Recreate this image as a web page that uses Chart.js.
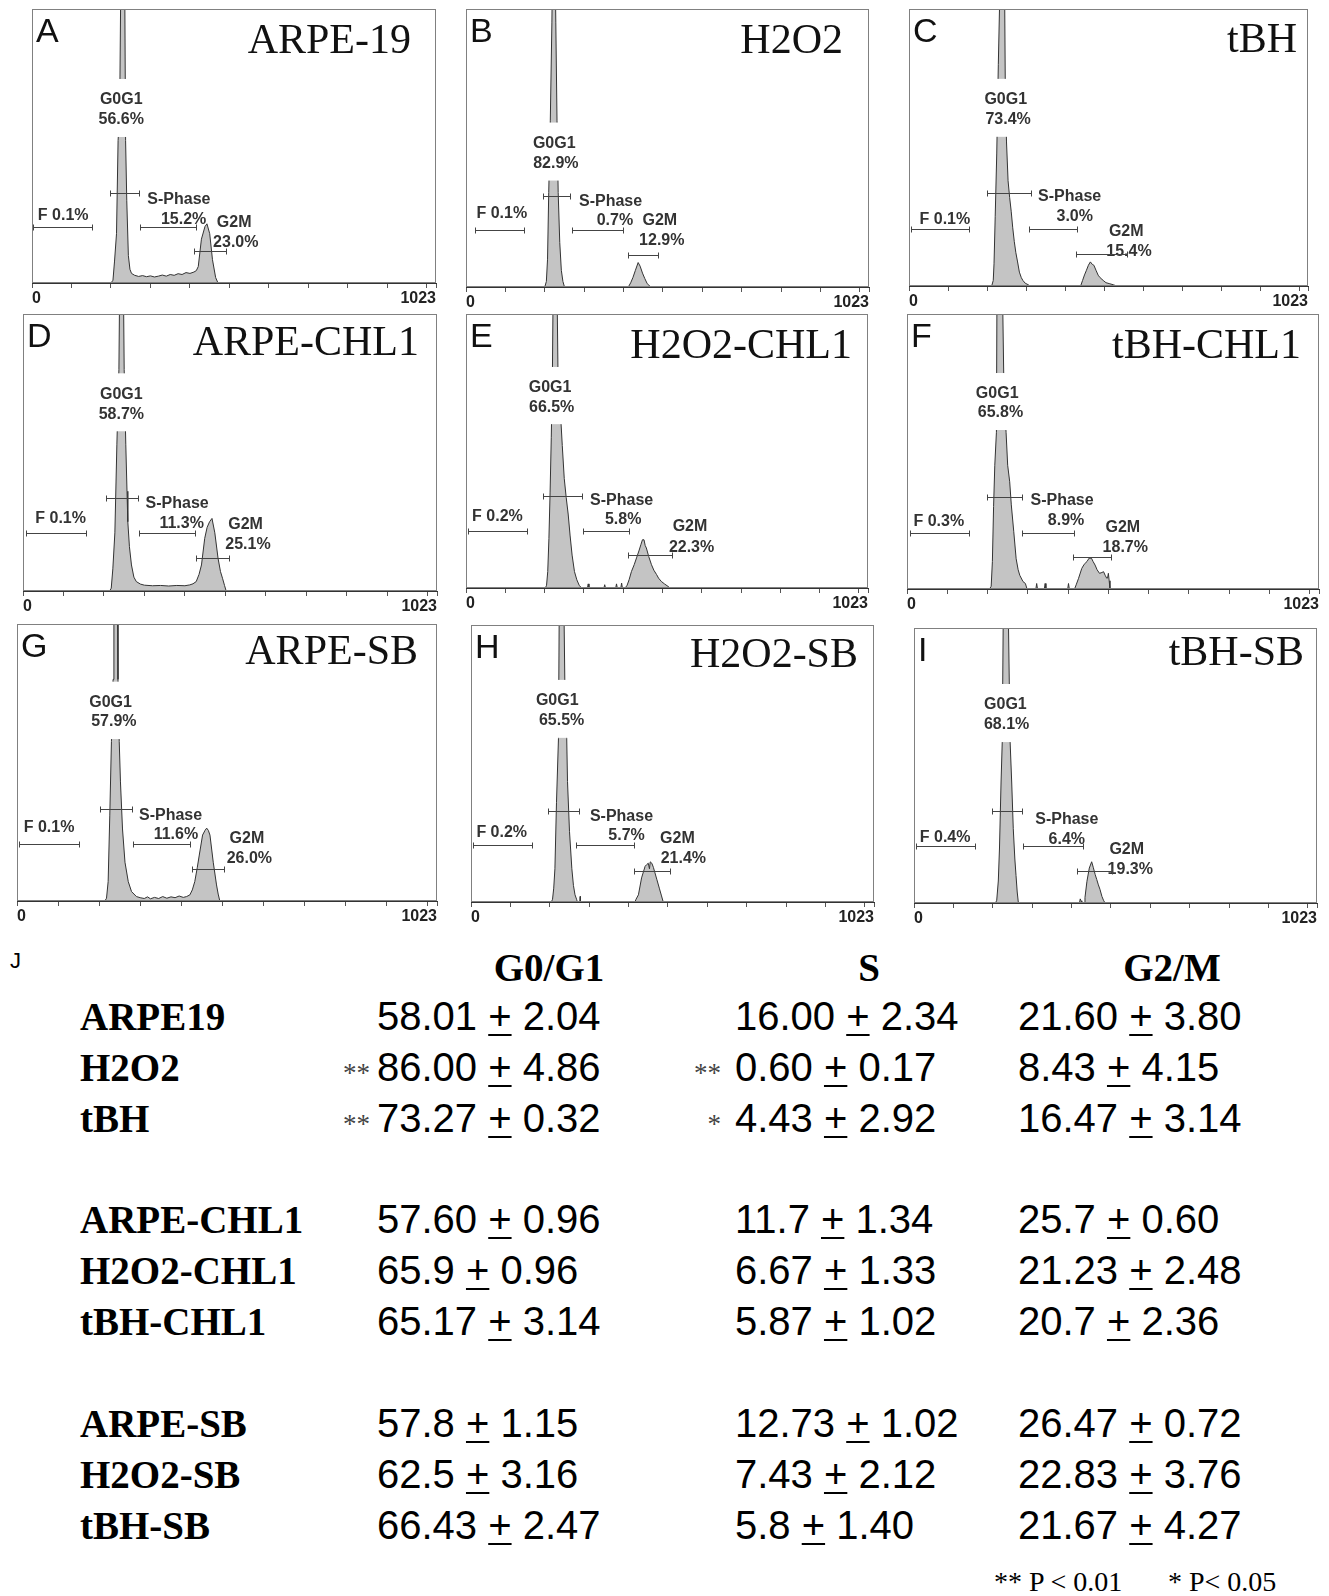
<!DOCTYPE html>
<html>
<head>
<meta charset="utf-8">
<script src="https://cdn.jsdelivr.net/npm/chart.js@4.4.1/dist/chart.umd.min.js"></script>
<style>
  body { margin: 0; background: #fff; }
  #page { position: relative; width: 1329px; height: 1596px; overflow: hidden; background: #fff; }
  .panel { position: absolute; }
  .letter { position: absolute; font: 34px/34px "Liberation Sans", Arial, sans-serif; color: #111; white-space: nowrap; }
  .title { position: absolute; font: 42px/42px "Liberation Serif", "Times New Roman", serif; color: #111; white-space: nowrap; }
  .t { position: absolute; white-space: nowrap; color: #000; }
  .head, .rowname { font: bold 39px/39px "Liberation Serif", "Times New Roman", serif; }
  .val { font: 40px/40px "Liberation Sans", Arial, sans-serif; }
  .sig { font: 27px/27px "Liberation Serif", "Times New Roman", serif; color: #444; }
  .jl { font: 22px/22px "Liberation Sans", Arial, sans-serif; }
  .foot { font: 28px/28px "Liberation Serif", "Times New Roman", serif; }
  .pm { text-decoration: underline; text-decoration-thickness: 2px; text-underline-offset: 4px; }
</style>
</head>
<body>
<div id="page"></div>
<script>
// histograms: DNA channel / count (count as % of panel height, peak tops run off the panel)
const chA = [200,205,209,214,218,222,226,234,237,240,244,248,252,260,270,280,290,300,310,320,330,340,350,360,370,380,390,400,410,416,421,429,438,443,450,457,465,471];
const cntA = [0,1,8,18,52,62,130,130,52,30,10,5,3.5,2.8,2.4,2.7,2.3,2.6,2.2,2.5,2.9,2.5,3.1,2.8,3.4,3.1,3.8,3.5,4,4.5,6,16,20.6,21.6,18,8.5,2,0];
const chB = [200,204,207,210,214,218,221,225,228,231,234,238,242,246,250,412,418,424,430,437,442,448,454,460,469];
const cntB = [0,2,10,34,60,95,130,130,95,60,34,16,6,2,0,0,1.5,3.5,6,8.8,7.5,5,3,1.2,0];
const chC = [212,216,218,221,225,229,232,235,244,247,250,254,258,262,266,270,274,278,283,288,292,298,305,310,440,445,450,455,460,465,470,474,480,485,490,498,505,515,525,532];
const cntC = [0,2,8,25,48,80,100,130,130,70,52,38,32,27,21,16,12,9,5,3,2,1,0.5,0,0,2,4,5.7,7.5,8.7,7.8,7.5,5.5,3.9,3,2,1.2,0.8,0.4,0];
const chD = [214,218,222,227,232,237,240,247,250,254,257,259,263,268,274,280,290,300,320,340,360,380,400,412,420,428,435,441,449,455,461,467,474,482,488,493,498,502];
const cntD = [0,1,8,21,53,80,130,130,80,53,36,25,16,9.4,5,3.4,2.5,2.1,1.9,2,1.8,2,1.9,2.2,2.6,3.4,6,9.4,19,23,25,26.2,21,11.8,7,4.6,2,0];
const chE = [202,205,208,211,214,217,220,223,230,234,240,245,250,255,260,265,270,276,282,288,294,309,311,313,351,353,355,381,383,385,394,396,398,405,410,415,421,428,434,440,445,449,453,456,459,465,472,478,485,490,497,505,514,519];
const cntE = [0,1,6,18,35,55,80,130,130,80,65,52,40,33,27,19,12,6,3,1,0,0,1.5,0,0,1.2,0,0,1.5,0,0,1.8,0,0,1,3,6,8.5,11,13.5,15.8,17.6,17.6,15.5,14.6,11.5,8.5,6.5,4.9,3.6,2.4,1.5,0.6,0];
const chF = [205,209,212,215,218,222,224,235,241,246,250,255,259,265,271,276,280,288,294,298,320,322,324,341,343,345,399,401,403,416,420,426,434,440,447,452,458,462,467,472,478,484,488,492,496,498,500,502,504];
const cntF = [0,1,10,30,45,57,130,130,70,57,45,39,30.6,21,11,7,5,2.7,2,0,0,2,0,0,2,0,0,2,0,0,1.5,3.9,7.5,9,10,11.2,11.2,10,8.7,7,5.7,6,6.3,5,3.9,4,5.7,3,0];
const chG = [214,218,222,226,230,234,236,244,246,249,252,257,263,271,279,291,300,310,318,325,335,345,355,365,375,385,395,405,413,421,427,433,439,444,452,458,462,466,470,478,486,490,494];
const cntG = [0,1,7,31,57.6,80,130,130,80,57.6,43,26,14,7,3.4,1.6,1.2,0.9,1.5,0.8,1.3,0.9,1.6,1,1.5,1.2,1.8,1.3,1.6,2.2,4,7,12,16.6,23.8,25.5,26.3,25.5,23.8,14,5.8,2.5,0];
const chH = [204,207,210,213,217,222,225,234,239,243,245,250,256,260,264,268,270,276,277,278,416,419,425,433,442,446,450,453,455,459,463,467,472,478,483,488];
const cntH = [0,1,5,12,36,59,130,130,70,59,43.5,25.5,12,6,2.6,1,0,0,2,0,0,1,2.6,8.7,12.9,13.5,14,12,14.5,14,12.5,10.5,8,5,2.5,0];
const chI = [207,210,214,217,221,224,228,237,244,248,252,256,259,262,265,420,422,424,426,432,434,439,445,451,455,460,464,468,472,477,481,485];
const cntI = [0,1,8,20,44,58.6,130,130,58.6,44,27,16,10,4,0,0,1.5,0.8,0,0,2,7.9,12.7,15,13,10.3,8.5,6.6,5,2.4,1,0];

const panelIds = ['A','B','C','D','E','F','G','H','I'];
const panelTitles = ['ARPE-19','H2O2','tBH','ARPE-CHL1','H2O2-CHL1','tBH-CHL1','ARPE-SB','H2O2-SB','tBH-SB'];
const fPct = ['0.1%','0.1%','0.1%','0.1%','0.2%','0.3%','0.1%','0.2%','0.4%'];
const g0g1Pct = ['56.6%','82.9%','73.4%','58.7%','66.5%','65.8%','57.9%','65.5%','68.1%'];
const sPct = ['15.2%','0.7%','3.0%','11.3%','5.8%','8.9%','11.6%','5.7%','6.4%'];
const g2mPct = ['23.0%','12.9%','15.4%','25.1%','22.3%','18.7%','26.0%','21.4%','19.3%'];
// gates [from channel, to channel, height]: F, G0G1, S-Phase, G2M
const gates = [
  [[3,152,20.3],[197,271,33],[273,415,20.3],[410,490,11.5]],
  [[23,148,20.6],[196,264,32.7],[270,398,20.4],[410,488,11.4]],
  [[5,155,20.7],[199,312,33.4],[308,431,20.7],[428,558,11.7]],
  [[7,155,20.8],[204,283,33.5],[286,424,20.8],[428,509,11.8]],
  [[6,154,20.7],[197,296,33.4],[298,414,20.7],[413,525,12.2]],
  [[8,155,20.5],[198,285,33.3],[285,415,20.5],[412,506,11.8]],
  [[5,151,20.5],[202,281,33.3],[283,421,20.5],[427,505,11.4]],
  [[6,154,20.4],[196,274,33],[266,414,20.4],[414,505,11.3]],
  [[5,155,20.6],[199,274,33.3],[276,429,20.6],[413,502,11.5]]
];
const xTicks = [0,100,200,300,400,500,600,700,800,900,1000,1023];

// table J
const rowNames = ['ARPE19','H2O2','tBH','ARPE-CHL1','H2O2-CHL1','tBH-CHL1','ARPE-SB','H2O2-SB','tBH-SB'];
const g0g1Mean = ['58.01','86.00','73.27','57.60','65.9','65.17','57.8','62.5','66.43'];
const g0g1Sd = ['2.04','4.86','0.32','0.96','0.96','3.14','1.15','3.16','2.47'];
const sMean = ['16.00','0.60','4.43','11.7','6.67','5.87','12.73','7.43','5.8'];
const sSd = ['2.34','0.17','2.92','1.34','1.33','1.02','1.02','2.12','1.40'];
const g2mMean = ['21.60','8.43','16.47','25.7','21.23','20.7','26.47','22.83','21.67'];
const g2mSd = ['3.80','4.15','3.14','0.60','2.48','2.36','0.72','3.76','4.27'];
const g0g1Sig = ['','**','**','','','','','',''];
const sSig = ['','**','*','','','','','',''];

// ---- layout ----
const chans = [chA,chB,chC,chD,chE,chF,chG,chH,chI];
const counts = [cntA,cntB,cntC,cntD,cntE,cntF,cntG,cntH,cntI];
const boxes = [[32,9,436,283],[466,9,869,287],[909,9,1308,286],[23,314,437,591],[466,314,868,588],[907,314,1319,589],[17,624,437,901],[471,625,874,902],[914,628,1317,903]];
const titleRight = [25,26,11,18,16,18,19,16,13];
const titleBase = [44,44,43,41,44,44,40,42,37];
// label anchors [channel, height]: G0G1, pct, F, S-Phase, pct, G2M, pct
const labelPos = [
  [[226,66.8],[226,59.5],[79,24.5],[372,30.4],[384,23.1],[512,22.1],[516,14.8]],
  [[224,51.6],[228,44.4],[91,26.4],[367,30.9],[378,23.8],[492,23.8],[497,16.6]],
  [[248,67.2],[254,60],[92,23.8],[412,32.2],[425,25],[557,19.5],[564,12.3]],
  [[243,71],[243,63.8],[93,26.2],[381,31.6],[392,24.4],[550,23.8],[556,16.6]],
  [[214,73],[218,66],[80,26],[396,32],[400,25],[570,22.5],[574,14.8]],
  [[224,70.9],[232,64],[79,24.5],[385,32],[395,24.8],[536,22.3],[542,15]],
  [[228,71.6],[236,64.6],[78,26.6],[374,30.7],[387,23.9],[560,22.4],[566,15.2]],
  [[219,72.6],[230,65.4],[78,24.9],[382,30.9],[395,24],[524,22.8],[539,15.6]],
  [[232,72],[235,64.7],[79,23.8],[388,30.2],[388,23],[540,19.3],[549,12.1]]
];
const rowBase = [1030,1081,1132,1233,1284,1335,1437,1488,1539];

const page = document.getElementById('page');
const PAD = 6, AXIS_H = 25;
const sans = '"Liberation Sans", Arial, sans-serif';

function overlay(i) {
  return {
    id: 'overlay' + i,
    afterDatasetsDraw(chart) {
      const ctx = chart.ctx, a = chart.chartArea, x = chart.scales.x, y = chart.scales.y;
      const pos = labelPos[i];
      const texts = ['G0G1', g0g1Pct[i], 'F ' + fPct[i], 'S-Phase', sPct[i], 'G2M', g2mPct[i]];
      ctx.save();
      ctx.font = 'bold 16px ' + sans;
      ctx.textAlign = 'center';
      ctx.textBaseline = 'middle';
      // white box behind the G0G1 label cuts the peak
      const gx1 = x.getPixelForValue(pos[0][0]), gy1 = y.getPixelForValue(pos[0][1]);
      const gx2 = x.getPixelForValue(pos[1][0]), gy2 = y.getPixelForValue(pos[1][1]);
      const w1 = ctx.measureText(texts[0]).width, w2 = ctx.measureText(texts[1]).width;
      const bl = Math.min(gx1 - w1 / 2, gx2 - w2 / 2) - 3;
      const br = Math.max(gx1 + w1 / 2, gx2 + w2 / 2) + 3;
      ctx.fillStyle = '#fff';
      ctx.fillRect(bl, gy1 - 21, br - bl, gy2 + 17 - (gy1 - 21));
      ctx.fillStyle = '#333';
      texts.forEach((t, k) => ctx.fillText(t, x.getPixelForValue(pos[k][0]), y.getPixelForValue(pos[k][1])));
      // gate markers
      ctx.strokeStyle = '#444';
      ctx.lineWidth = 1;
      gates[i].forEach(g => {
        const p0 = Math.round(x.getPixelForValue(g[0])) + 0.5;
        const p1 = Math.round(x.getPixelForValue(g[1])) + 0.5;
        const py = Math.round(y.getPixelForValue(g[2])) + 0.5;
        ctx.beginPath();
        ctx.moveTo(p0, py); ctx.lineTo(p1, py);
        ctx.moveTo(p0, py - 3); ctx.lineTo(p0, py + 3);
        ctx.moveTo(p1, py - 3); ctx.lineTo(p1, py + 3);
        ctx.stroke();
      });
      // frame
      ctx.strokeStyle = '#808080';
      ctx.strokeRect(Math.round(a.left) + 0.5, Math.round(a.top) + 0.5, Math.round(a.width) - 1, Math.round(a.height) - 1);
      ctx.restore();
    }
  };
}

panelIds.forEach((id, i) => {
  const [l, t, r, b] = boxes[i];
  const w = r - l, h = b - t;
  const wrap = document.createElement('div');
  wrap.className = 'panel';
  wrap.style.left = (l - PAD) + 'px';
  wrap.style.top = (t - PAD) + 'px';
  const cv = document.createElement('canvas');
  cv.width = w + 2 * PAD;
  cv.height = h + PAD + AXIS_H;
  wrap.appendChild(cv);
  page.appendChild(wrap);

  new Chart(cv.getContext('2d'), {
    type: 'line',
    data: {
      datasets: [{
        data: chans[i].map((c, k) => ({x: c, y: counts[i][k]})),
        fill: 'origin',
        backgroundColor: '#c4c4c4',
        borderColor: '#333',
        borderWidth: 1,
        pointRadius: 0,
        tension: 0
      }]
    },
    options: {
      responsive: false,
      animation: false,
      events: [],
      layout: { padding: { left: PAD, right: PAD, top: PAD, bottom: 0 } },
      plugins: { legend: { display: false }, tooltip: { enabled: false } },
      scales: {
        x: {
          type: 'linear', min: 0, max: 1023,
          afterBuildTicks: axis => { axis.ticks = xTicks.map(v => ({value: v})); },
          afterFit: axis => { axis.height = AXIS_H; },
          ticks: {
            autoSkip: false, maxRotation: 0, align: 'inner', padding: 1,
            color: '#222', font: { family: sans, size: 16, weight: 'bold' },
            callback: v => (v === 0 || v === 1023) ? String(v) : ''
          },
          grid: { drawOnChartArea: false, tickLength: 5, color: '#555' },
          border: { display: true, color: '#333' }
        },
        y: { display: false, min: 0, max: 100 }
      }
    },
    plugins: [overlay(i)]
  });

  const letter = document.createElement('div');
  letter.className = 'letter';
  letter.textContent = id;
  letter.style.left = (l + 4) + 'px';
  letter.style.top = (t + 4) + 'px';
  page.appendChild(letter);

  const title = document.createElement('div');
  title.className = 'title';
  title.textContent = panelTitles[i];
  title.style.right = (1329 - (r - titleRight[i])) + 'px';
  title.style.top = (t + titleBase[i] - 35) + 'px';
  page.appendChild(title);
});

// ---- table J ----
function put(cls, html, x, base, off, align) {
  const d = document.createElement('div');
  d.className = 't ' + cls;
  d.innerHTML = html;
  d.style.top = (base - off) + 'px';
  if (align === 'right') d.style.right = (1329 - x) + 'px';
  else d.style.left = x + 'px';
  if (align === 'center') d.style.transform = 'translateX(-50%)';
  page.appendChild(d);
}
const SERIF_OFF = 33, VAL_OFF = 34, SIG_OFF = 22.6, SMALL_OFF = 18.6, FOOT_OFF = 23.4;
put('jl', 'J', 10, 969, SMALL_OFF);
put('head', 'G0/G1', 549, 981, SERIF_OFF, 'center');
put('head', 'S', 869, 981, SERIF_OFF, 'center');
put('head', 'G2/M', 1172, 981, SERIF_OFF, 'center');
const cell = (m, s) => m + ' <span class="pm">+</span> ' + s;
rowNames.forEach((n, k) => {
  const yb = rowBase[k];
  put('rowname', n, 80, yb, SERIF_OFF);
  put('val', cell(g0g1Mean[k], g0g1Sd[k]), 377, yb, VAL_OFF);
  put('val', cell(sMean[k], sSd[k]), 735, yb, VAL_OFF);
  put('val', cell(g2mMean[k], g2mSd[k]), 1018, yb, VAL_OFF);
  if (g0g1Sig[k]) put('sig', g0g1Sig[k], 370, yb + 2, SIG_OFF, 'right');
  if (sSig[k]) put('sig', sSig[k], 721, yb + 2, SIG_OFF, 'right');
});
put('foot', '** P &lt; 0.01', 994, 1591, FOOT_OFF);
put('foot', '* P&lt; 0.05', 1168, 1591, FOOT_OFF);
</script>
</body>
</html>
